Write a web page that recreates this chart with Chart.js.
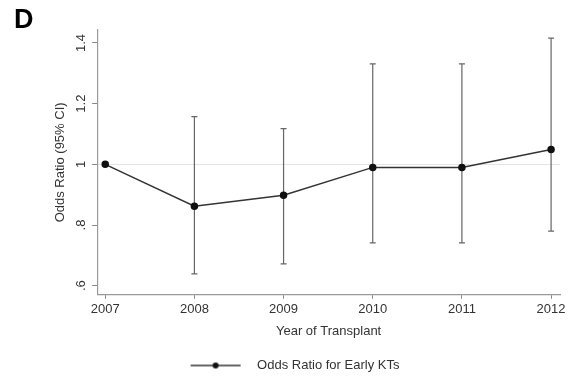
<!DOCTYPE html>
<html>
<head>
<meta charset="utf-8">
<script src="https://cdn.jsdelivr.net/npm/chart.js@4.4.1/dist/chart.umd.min.js"></script>
<style>
  html, body { margin: 0; padding: 0; background: #fff; }
  #wrap { width: 572px; height: 377px; }
</style>
</head>
<body>
<div id="wrap"><canvas id="chart" width="572" height="377"></canvas></div>
<script>
// values
const years = [2007, 2008, 2009, 2010, 2011, 2012];
const oddsRatio = [1.0, 0.862, 0.898, 0.99, 0.99, 1.049];
const ciLower = [1.0, 0.639, 0.672, 0.741, 0.741, 0.78];
const ciUpper = [1.0, 1.157, 1.118, 1.331, 1.331, 1.416];
const yTicks = [0.6, 0.8, 1.0, 1.2, 1.4];
const yTickLabels = ['.6', '.8', '1', '1.2', '1.4'];

// line-with-dot symbol for the legend (blank strip on the left keeps it off-centre like the original)
function legendSymbol() {
  const c = document.createElement('canvas');
  c.width = 76;
  c.height = 10;
  const g = c.getContext('2d');
  g.strokeStyle = '#333';
  g.lineWidth = 1.5;
  g.beginPath();
  g.moveTo(16, 5);
  g.lineTo(66, 5);
  g.stroke();
  g.fillStyle = '#111';
  g.beginPath();
  g.arc(41, 5, 3, 0, Math.PI * 2);
  g.fill();
  return c;
}

// vertical 95% CI bars with small caps
const errorBars = {
  id: 'errorBars',
  beforeDatasetsDraw(chart) {
    const ctx = chart.ctx;
    const xs = chart.scales.x;
    const ys = chart.scales.y;
    ctx.save();
    ctx.strokeStyle = '#666';
    ctx.lineWidth = 1.2;
    years.forEach((yr, i) => {
      if (ciLower[i] === ciUpper[i]) return;
      const x = xs.getPixelForValue(yr);
      const top = ys.getPixelForValue(ciUpper[i]);
      const bot = ys.getPixelForValue(ciLower[i]);
      ctx.beginPath();
      ctx.moveTo(x, top);
      ctx.lineTo(x, bot);
      ctx.moveTo(x - 3, top);
      ctx.lineTo(x + 3, top);
      ctx.moveTo(x - 3, bot);
      ctx.lineTo(x + 3, bot);
      ctx.stroke();
    });
    ctx.restore();
  }
};

const font = { family: 'Liberation Sans, Arial, sans-serif', size: 13 };

new Chart(document.getElementById('chart'), {
  type: 'line',
  data: {
    datasets: [{
      label: 'Odds Ratio for Early KTs',
      data: years.map((yr, i) => ({ x: yr, y: oddsRatio[i] })),
      borderColor: '#333',
      borderWidth: 1.5,
      pointRadius: 3,
      pointStyle: 'circle',
      pointBackgroundColor: '#111',
      pointBorderColor: '#111',
      tension: 0
    }]
  },
  options: {
    responsive: false,
    animation: false,
    layout: { padding: { left: 14, right: 12, top: 0, bottom: -5 } },
    scales: {
      x: {
        type: 'linear',
        min: 2006.91,
        max: 2012.1,
        afterBuildTicks: (axis) => { axis.ticks = years.map(v => ({ value: v })); },
        ticks: {
          color: '#333',
          font: font,
          maxRotation: 0,
          padding: 3,
          callback: (v) => String(v)
        },
        grid: { drawOnChartArea: false, drawTicks: true, tickLength: 4, tickColor: '#888' },
        border: { display: true, color: '#999', width: 1.2 },
        title: { display: true, text: 'Year of Transplant', color: '#333', font: font, padding: { top: 3, bottom: 20 } }
      },
      y: {
        min: 0.57,
        max: 1.443,
        afterBuildTicks: (axis) => { axis.ticks = yTicks.map(v => ({ value: v })); },
        ticks: {
          color: '#333',
          font: font,
          minRotation: 90,
          maxRotation: 90,
          crossAlign: 'center',
          padding: 2,
          callback: (v) => yTickLabels[yTicks.findIndex(t => Math.abs(t - v) < 1e-6)]
        },
        grid: {
          color: (c) => (c.tick && Math.abs(c.tick.value - 1) < 1e-6) ? '#e4e4e4' : 'rgba(0,0,0,0)',
          drawTicks: true,
          tickLength: 5,
          tickColor: '#888'
        },
        border: { display: true, color: '#999', width: 1.2 },
        title: { display: true, text: 'Odds Ratio (95% CI)', color: '#333', font: font, padding: { top: 39, bottom: 4 } }
      }
    },
    plugins: {
      title: {
        display: true,
        text: 'D',
        align: 'start',
        color: '#000',
        font: { family: 'Liberation Sans, Arial, sans-serif', size: 27, weight: 'bold', lineHeight: 0.85 },
        padding: { top: 9, bottom: -2 }
      },
      legend: {
        display: true,
        position: 'bottom',
        labels: {
          usePointStyle: true,
          pointStyle: legendSymbol(),
          pointStyleWidth: 76,
          color: '#333',
          font: font,
          padding: 0
        }
      },
      tooltip: { enabled: false }
    }
  },
  plugins: [errorBars]
});
</script>
</body>
</html>
